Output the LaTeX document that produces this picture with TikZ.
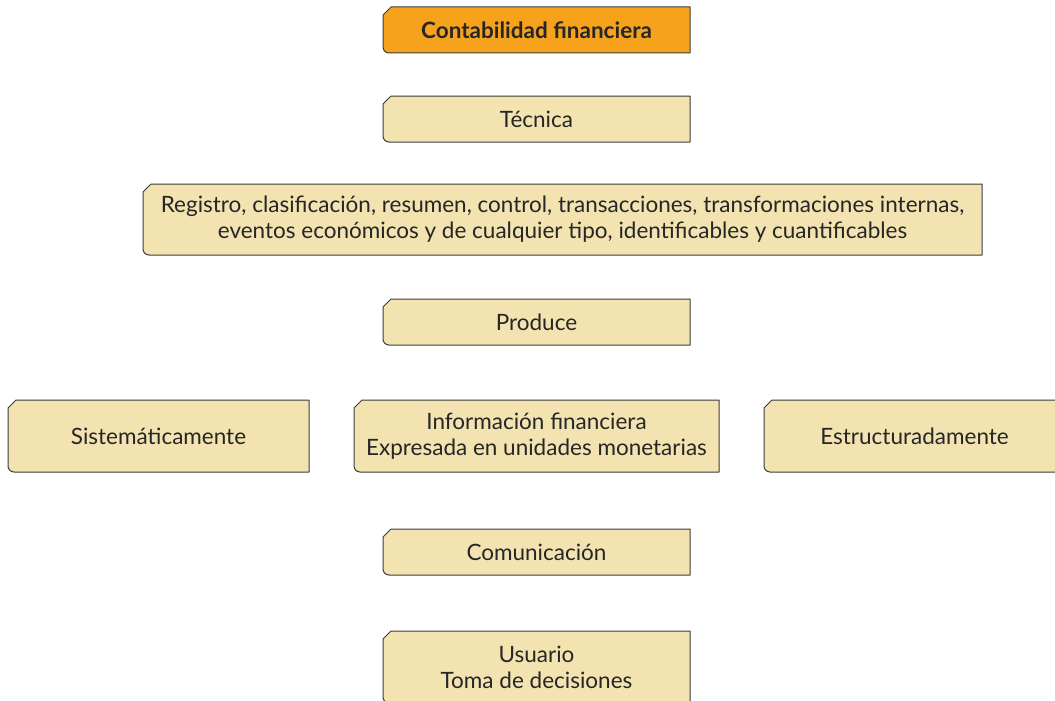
\documentclass[tikz,border=0pt]{standalone}
\usepackage{fontspec}
\setmainfont{Lato}
\usetikzlibrary{backgrounds}
\definecolor{cardtan}{HTML}{F2E3B1}
\definecolor{cardorange}{HTML}{F6A21C}
\definecolor{cardline}{HTML}{3C3C3C}
\definecolor{cardtext}{HTML}{262626}
\begin{document}
\begin{tikzpicture}[x=1pt,y=1pt,
  card/.style={inner sep=0pt,outer sep=0pt,align=center,text=cardtext,
    font=\fontsize{22.5}{26}\selectfont},
  small/.style={card,minimum width=307,minimum height=46},
  tall/.style={card,minimum height=72}]
  \useasboundingbox (0,0) rectangle (1055,-701);
  \node[small,font=\fontsize{22.5}{26}\selectfont\bfseries] (tit) at (536.5,-30) {Contabilidad financiera};
  \node[small] (tec) at (536.5,-119) {Técnica};
  \node[card,minimum width=839,minimum height=71] (reg) at (562.5,-219.5) {Registro, clasificación, resumen, control, transacciones, transformaciones internas,\\eventos económicos y de cualquier tipo, identificables y cuantificables};
  \node[small] (pro) at (536.5,-322) {Produce};
  \node[tall,minimum width=301] (sis) at (158.5,-436) {Sistemáticamente};
  \node[tall,minimum width=365] (inf) at (536.5,-436) {Información financiera\\Expresada en unidades monetarias};
  \node[tall,minimum width=301] (est) at (914.5,-436) {Estructuradamente};
  \node[small] (com) at (536.5,-552) {Comunicación};
  \node[tall,minimum width=307] (usu) at (536.5,-667) {Usuario\\Toma de decisiones};
  % card outlines: chamfered top left, rounded bottom left
  \begin{scope}[on background layer]
    \foreach \n/\f in {tit/cardorange,tec/cardtan,reg/cardtan,pro/cardtan,sis/cardtan,inf/cardtan,est/cardtan,com/cardtan,usu/cardtan}
      \draw[cardline,fill=\f,line width=1pt,line join=round]
        ([xshift=6]\n.south west) -- (\n.south east) -- (\n.north east)
        -- ([xshift=8]\n.north west) -- ([yshift=-8]\n.north west)
        -- ([yshift=6]\n.south west) arc[start angle=180,end angle=270,radius=6] -- cycle;
  \end{scope}
\end{tikzpicture}
\end{document}
